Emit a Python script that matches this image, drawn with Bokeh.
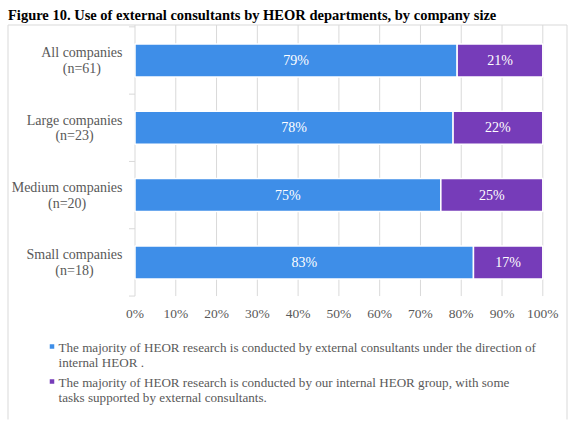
from bokeh.plotting import figure
from bokeh.models import ColumnDataSource, Range1d
from bokeh.embed import file_html
from bokeh.resources import INLINE

# --- data ---------------------------------------------------------------
categories = ["All companies\n(n=61)", "Large companies\n(n=23)",
              "Medium companies\n(n=20)", "Small companies\n(n=18)"]
external_led = [79, 78, 75, 83]   # external consultants under internal direction
internal_led = [21, 22, 25, 17]   # internal group, some tasks outsourced
series_names = [
    "The majority of HEOR research is conducted by external consultants under the direction of\ninternal HEOR .",
    "The majority of HEOR research is conducted by our internal HEOR group, with some\ntasks supported by external consultants.",
]
x_ticks = [0, 10, 20, 30, 40, 50, 60, 70, 80, 90, 100]
title = "Figure 10. Use of external consultants by HEOR departments, by company size"

# --- styling ------------------------------------------------------------
BLUE = "#3E8EE8"
PURPLE = "#763CB9"
GREY_TXT = "#595959"
GRID = "#D9D9D9"
FONT = "Liberation Serif"
SERIES_COLORS = [BLUE, PURPLE]

# --- layout (pixels) ----------------------------------------------------
W, H = 581, 448
X0_PX = 134.5          # column of the 0 % line
PX_PER_PCT = 4.078     # horizontal pixels per percentage point
CAT0_PX = 60.0         # row of the first category's centre
BAND_PX = 67.3         # vertical pitch between categories
LABEL_RIGHT_PX = 122   # right edge of the category labels

n = len(categories)


def x_at(px):
    return (px - X0_PX) / PX_PER_PCT


def y_at(py):
    return n - (py - CAT0_PX) / BAND_PX


# advance widths (1/1000 em) of the Times-compatible serif, used to centre
# the "(n=..)" line under the category name
SERIF_W = {" ": 250, "A": 722, "L": 611, "M": 889, "S": 556,
           "a": 444, "b": 500, "c": 444, "d": 500, "e": 444, "f": 333,
           "g": 500, "h": 500, "i": 278, "j": 278, "k": 500, "l": 278,
           "m": 778, "n": 500, "o": 500, "p": 500, "q": 500, "r": 333,
           "s": 389, "t": 278, "u": 500, "v": 500, "w": 722, "x": 500,
           "y": 500, "z": 444}


def text_width(s, size_px):
    return sum(SERIF_W.get(ch, 500) for ch in s) * size_px / 1000.0


p = figure(width=W, height=H, output_backend="svg", toolbar_location=None,
           x_range=Range1d(x_at(0), x_at(W)), y_range=Range1d(y_at(H), y_at(0)),
           x_axis_type=None, y_axis_type=None,
           min_border=0, min_border_left=0, min_border_right=0,
           min_border_top=0, min_border_bottom=0)
p.title.visible = False
p.outline_line_color = None
p.background_fill_color = "white"
p.border_fill_color = "white"

# title
p.text(x=[x_at(7.5)], y=[y_at(14.8)], text=[title], text_font=FONT,
       text_font_size="14.5px", text_font_style="bold", text_color="#000000",
       text_baseline="middle", text_align="left")

# light frame (left, top, right)
p.line(x=[x_at(7.5), x_at(7.5), x_at(566.5), x_at(566.5)],
       y=[y_at(419), y_at(24.5), y_at(24.5), y_at(419)],
       line_color=GRID, line_width=1)

# vertical grid lines (the 0 % one doubles as the category axis)
y_bottom = 0.5
y_top = y_at(24.5)
p.segment(x0=x_ticks, x1=x_ticks, y0=[y_bottom] * len(x_ticks),
          y1=[y_top] * len(x_ticks), line_color=GRID, line_width=1)

# short ticks between the categories
bounds = [k + 0.5 for k in range(n + 1)]
p.segment(x0=[x_at(128.5)] * len(bounds), x1=[0] * len(bounds),
          y0=bounds, y1=bounds, line_color=GRID, line_width=1)

# stacked bars
ypos = [n - i for i in range(n)]
src = ColumnDataSource(dict(
    y=ypos,
    ext=external_led,
    tot=[a + b for a, b in zip(external_led, internal_led)],
    ext_mid=[a / 2 for a in external_led],
    int_mid=[a + b / 2 for a, b in zip(external_led, internal_led)],
    ext_lbl=[f"{v}%" for v in external_led],
    int_lbl=[f"{v}%" for v in internal_led],
))
p.hbar(y="y", left=0, right="ext", height=0.49, source=src,
       fill_color=BLUE, line_color="white", line_width=1.5)
p.hbar(y="y", left="ext", right="tot", height=0.49, source=src,
       fill_color=PURPLE, line_color="white", line_width=1.5)

for xcol, tcol in (("ext_mid", "ext_lbl"), ("int_mid", "int_lbl")):
    p.text(x=xcol, y="y", text=tcol, source=src, text_align="center",
           text_baseline="middle", text_color="white",
           text_font=FONT, text_font_size="14px")

# category labels: name right-aligned, sample size centred beneath it
LBL_SIZE = 14
names = [c.split("\n")[0] for c in categories]
counts = [c.split("\n")[1] for c in categories]
p.text(x=[x_at(LABEL_RIGHT_PX)] * n, y=[y + 7.6 / BAND_PX for y in ypos],
       text=names, text_align="right", text_baseline="middle",
       text_color=GREY_TXT, text_font=FONT,
       text_font_size=f"{LBL_SIZE}px")
p.text(x=[x_at(LABEL_RIGHT_PX - text_width(nm, LBL_SIZE) / 2) for nm in names],
       y=[y - 7.9 / BAND_PX for y in ypos],
       text=counts, text_align="center", text_baseline="middle",
       text_color=GREY_TXT, text_font=FONT,
       text_font_size=f"{LBL_SIZE}px")

# percentage tick labels
p.text(x=x_ticks, y=[y_at(312.8)] * len(x_ticks),
       text=[f"{t}%" for t in x_ticks], text_align="center",
       text_baseline="middle", text_color=GREY_TXT,
       text_font=FONT, text_font_size="13.5px")

# legend: small square + two-line description per series
item_mids = [346.6, 381.6]      # middle of each item's first line
LINE_PX = 15
for name, color, mid in zip(series_names, SERIES_COLORS, item_mids):
    lines = name.split("\n")
    p.scatter(x=[x_at(51.5)], y=[y_at(mid - 0.6)], marker="square", size=4.5,
              fill_color=color, line_color=None)
    p.text(x=[x_at(58)] * len(lines),
           y=[y_at(mid + k * LINE_PX) for k in range(len(lines))],
           text=lines, text_align="left", text_baseline="middle",
           text_color=GREY_TXT, text_font=FONT,
           text_font_size="13.1px")

open("out.html", "w").write(file_html(p, INLINE))
